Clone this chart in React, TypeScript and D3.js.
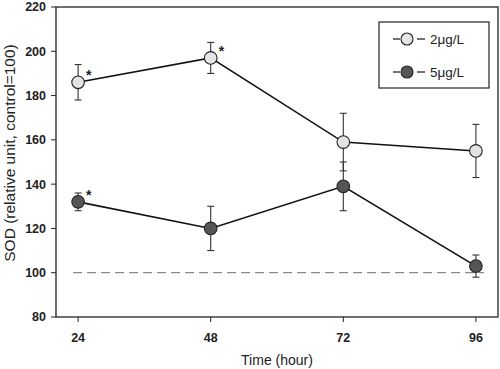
import React from "react";
import * as d3 from "d3";

const hours = [24, 48, 72, 96];
const low = [186, 197, 159, 155];
const lowErr = [8, 7, 13, 12];
const high = [132, 120, 139, 103];
const highErr = [4, 10, 11, 5];
const lowStar = [true, true, false, false];
const highStar = [true, false, false, false];
const yTicks = [80, 100, 120, 140, 160, 180, 200, 220];
const seriesNames = ["2\u03bcg/L", "5\u03bcg/L"];

const W = 500, H = 369;
const L = 56, R = 498, T = 7, B = 317;

export default function App() {
  const x = d3.scaleLinear().domain([20, 100]).range([L, R]);
  const y = d3.scaleLinear().domain([80, 220]).range([B, T]);
  const line = d3.line<[number, number]>().x(d => x(d[0])).y(d => y(d[1]));
  const font = "Arial, 'Liberation Sans', sans-serif";
  const series = [
    { vals: low, err: lowErr, star: lowStar, fill: "#e4e4e4" },
    { vals: high, err: highErr, star: highStar, fill: "#555" },
  ];
  return (
    <svg width={W} height={H} style={{ position: "absolute", left: 0, top: 0 }} fontFamily={font}>
      <rect x={0} y={0} width={W} height={H} fill="#fff" />
      <rect x={L} y={T} width={R - L} height={B - T} fill="none" stroke="#222" strokeWidth={1.3} />
      <line x1={x(24) - 5} x2={x(96) + 8} y1={y(100)} y2={y(100)} stroke="#888" strokeDasharray="9,5" strokeWidth={1.2} />
      {yTicks.map(t => (
        <g key={t}>
          <line x1={L - 5} x2={L} y1={y(t)} y2={y(t)} stroke="#222" />
          <text x={L - 10} y={y(t)} dy="0.35em" textAnchor="end" fontSize={12.5} fontWeight="bold" fill="#222">{t}</text>
        </g>
      ))}
      {hours.map(h => (
        <g key={h}>
          <line x1={x(h)} x2={x(h)} y1={B} y2={B + 5} stroke="#222" />
          <text x={x(h)} y={B + 25} textAnchor="middle" fontSize={12.5} fontWeight="bold" fill="#222">{h}</text>
        </g>
      ))}
      <text x={277} y={365} textAnchor="middle" fontSize={14} fill="#222">Time (hour)</text>
      <text transform={`translate(15,153) rotate(-90)`} textAnchor="middle" fontSize={15.5} fill="#222">SOD (relative unit, control=100)</text>
      {series.map((s, si) => (
        <g key={si}>
          <path d={line(hours.map((h, i) => [h, s.vals[i]]) as [number, number][]) || ""} fill="none" stroke="#111" strokeWidth={1.6} />
          {hours.map((h, i) => (
            <g key={h}>
              <line x1={x(h)} x2={x(h)} y1={y(s.vals[i] + s.err[i])} y2={y(s.vals[i] - s.err[i])} stroke="#333" strokeWidth={1.1} />
              <line x1={x(h) - 3.5} x2={x(h) + 3.5} y1={y(s.vals[i] + s.err[i])} y2={y(s.vals[i] + s.err[i])} stroke="#333" strokeWidth={1.1} />
              <line x1={x(h) - 3.5} x2={x(h) + 3.5} y1={y(s.vals[i] - s.err[i])} y2={y(s.vals[i] - s.err[i])} stroke="#333" strokeWidth={1.1} />
              <circle cx={x(h)} cy={y(s.vals[i])} r={6.3} fill={s.fill} stroke="#222" strokeWidth={1.1} />
              {s.star[i] && (
                <text x={x(h) + 8} y={y(s.vals[i]) - 2} fontSize={14} fontWeight="bold" fill="#222">*</text>
              )}
            </g>
          ))}
        </g>
      ))}
      <rect x={379} y={22} width={110} height={66} fill="#fff" stroke="#222" strokeWidth={1.2} />
      {seriesNames.map((n, i) => {
        const ly = 39 + i * 33;
        return (
          <g key={n}>
            <line x1={393} x2={400} y1={ly} y2={ly} stroke="#222" strokeWidth={1.3} />
            <line x1={417} x2={425} y1={ly} y2={ly} stroke="#222" strokeWidth={1.3} />
            <circle cx={407} cy={ly} r={6} fill={series[i].fill} stroke="#222" strokeWidth={1.1} />
            <text x={430} y={ly} dy="0.35em" fontSize={13.5} fill="#222">{n}</text>
          </g>
        );
      })}
    </svg>
  );
}
